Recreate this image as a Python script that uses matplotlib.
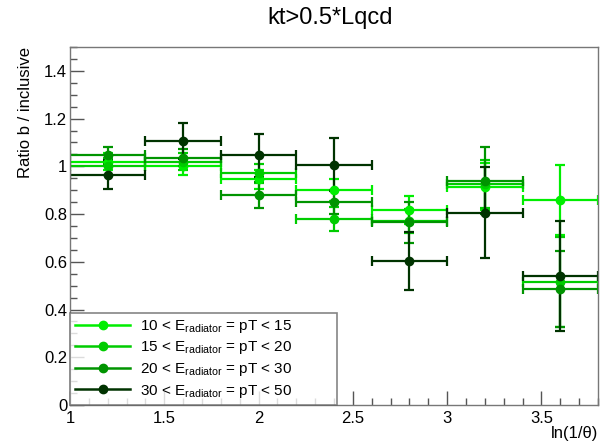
import matplotlib
matplotlib.use("Agg")
import matplotlib.pyplot as plt
from matplotlib.ticker import MultipleLocator, FixedLocator
from matplotlib.lines import Line2D
import numpy as np

plt.rcParams['font.family'] = ['Liberation Sans', 'DejaVu Sans']
plt.rcParams['mathtext.default'] = 'regular'

# Data
bin_centers = [1.2, 1.6, 2.0, 2.4, 2.8, 3.2, 3.6]
bin_halfwidth = [0.2, 0.2, 0.2, 0.2, 0.2, 0.2, 0.2]

labels = [r'10 < E$_{radiator}$ = pT < 15',
          r'15 < E$_{radiator}$ = pT < 20',
          r'20 < E$_{radiator}$ = pT < 30',
          r'30 < E$_{radiator}$ = pT < 50']

vals_10_15 = [1.02, 1.00, 0.945, 0.90, 0.816, 0.915, 0.858]
errs_10_15 = [0.035, 0.035, 0.04, 0.045, 0.058, 0.10, 0.146]

vals_15_20 = [1.00, 1.02, 0.97, 0.78, 0.77, 0.925, 0.515]
errs_15_20 = [0.035, 0.035, 0.04, 0.05, 0.05, 0.10, 0.19]

vals_20_30 = [1.046, 1.036, 0.88, 0.852, 0.765, 0.94, 0.485]
errs_20_30 = [0.035, 0.035, 0.055, 0.05, 0.085, 0.14, 0.16]

vals_30_50 = [0.965, 1.105, 1.046, 1.007, 0.603, 0.806, 0.541]
errs_30_50 = [0.06, 0.075, 0.09, 0.11, 0.12, 0.19, 0.23]

series_vals = [vals_10_15, vals_15_20, vals_20_30, vals_30_50]
series_errs = [errs_10_15, errs_15_20, errs_20_30, errs_30_50]
colors = ['#00ee00', '#00cc00', '#009400', '#003300']

title = 'kt>0.5*Lqcd'
xlabel = 'ln(1/\u03b8)'
ylabel = 'Ratio b / inclusive'
xticks = [1, 1.5, 2, 2.5, 3, 3.5]
xticklabels = ['1', '1.5', '2', '2.5', '3', '3.5']
yticks = [0, 0.2, 0.4, 0.6, 0.8, 1.0, 1.2, 1.4]
yticklabels = ['0', '0.2', '0.4', '0.6', '0.8', '1', '1.2', '1.4']

fig = plt.figure(figsize=(6.04, 4.44), dpi=100, facecolor='white')
ax = fig.add_axes([70/604, 39/444, 528/604, 358/444])

handles = []
for vals, errs, c, lab in zip(series_vals, series_errs, colors, labels):
    ax.errorbar(bin_centers, vals, xerr=bin_halfwidth, yerr=errs, fmt='o',
                color=c, ecolor=c, markersize=6, elinewidth=1.6,
                capsize=3.5, capthick=1.6)
    handles.append(Line2D([], [], color=c, marker='o', markersize=6,
                          linewidth=1.8, label=lab))

ax.set_xlim(1.0, 3.8)
ax.set_ylim(0, 1.5)
ax.xaxis.set_major_locator(FixedLocator(xticks))
ax.set_xticklabels(xticklabels)
ax.xaxis.set_minor_locator(MultipleLocator(0.1))
ax.yaxis.set_major_locator(FixedLocator(yticks))
ax.set_yticklabels(yticklabels)
ax.yaxis.set_minor_locator(MultipleLocator(0.05))

ax.tick_params(axis='both', which='both', direction='in', top=False, right=False,
               color='#555555', labelsize=12)
ax.tick_params(axis='both', which='major', length=10, width=1)
ax.tick_params(axis='both', which='minor', length=5, width=1)
ax.tick_params(axis='x', pad=4)
ax.tick_params(axis='y', pad=2)
for s in ax.spines.values():
    s.set_color('#777777')
    s.set_linewidth(1)

fig.text(330/604, 1 - 18/444, title, ha='center', va='center', fontsize=17)
fig.text(598/604, 1 - 433/444, xlabel, ha='right', va='center', fontsize=12)
fig.text(25/604, 1 - 47/444, ylabel, ha='center', va='top', rotation=90, fontsize=12)

leg = ax.legend(handles=handles, loc='lower left',
                bbox_to_anchor=(0.0, 0.0, 0.505, 0.254),
                mode='expand', fontsize=11, frameon=True, fancybox=False,
                borderaxespad=0, handlelength=3.6, handletextpad=0.6,
                labelspacing=0.3, borderpad=0.35)
leg.get_frame().set_edgecolor('#666666')
leg.get_frame().set_linewidth(1.2)

fig.savefig('out.png', dpi=100, facecolor='white')
